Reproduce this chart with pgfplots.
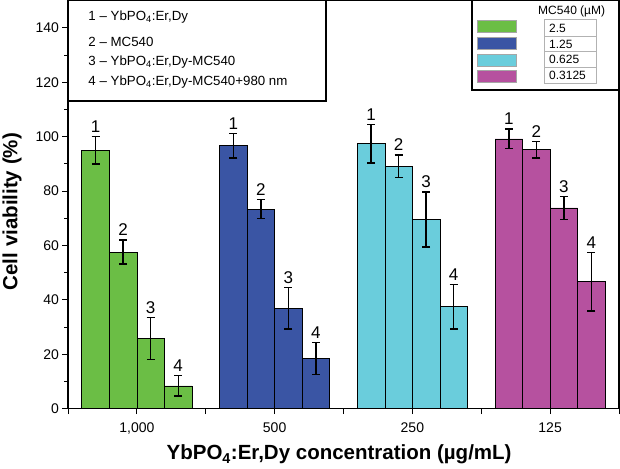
\documentclass[border=0pt]{standalone}
\usepackage{fontspec}
\setmainfont{Liberation Sans}
\usepackage{pgfplots}
\pgfplotsset{compat=1.18}
\definecolor{cgreen}{HTML}{6BBE45}
\definecolor{cblue}{HTML}{3A55A4}
\definecolor{ccyan}{HTML}{6ACDDC}
\definecolor{cmag}{HTML}{B6519F}
\newcommand{\tf}{\fontsize{14bp}{16bp}\selectfont}
\pgfplotsset{
  mybar/.style={ybar, bar width=0.2, bar shift=0pt, fill=#1, draw=black, line width=0.6bp,
    error bars/.cd, y dir=both, y explicit,
    error bar style={line width=1.4bp, black},
    error mark options={rotate=90, line width=1.4bp, black, mark size=4bp}},
}
\begin{document}
\begin{tikzpicture}[x=1bp,y=1bp]
\useasboundingbox (-68,-60.3) rectangle (552,408.7);
\begin{axis}[
  scale only axis, width=551bp, height=408bp,
  xmin=-0.5, xmax=3.5, ymin=0, ymax=150,
  axis line style={line width=1.1bp},
  tick align=outside, xtick pos=bottom, ytick pos=left,
  every tick/.style={black, line width=1bp},
  major tick length=5.5bp, minor tick length=3.5bp,
  xtick={-0.5,0,0.5,1,1.5,2,2.5,3,3.5},
  xticklabels={{},{1,000},{},500,{},250,{},125,{}},
  ytick={0,20,...,140}, minor y tick num=1,
  /pgf/number format/assume math mode=true,
  tick label style={font=\tf},
  xticklabel style={yshift=-5bp},
  xlabel={\bfseries YbPO\textsubscript{4}:Er,Dy concentration (µg/mL)},
  ylabel={\bfseries Cell viability (\%)},
  label style={font=\fontsize{20.5bp}{24bp}\selectfont},
  xlabel style={at={(axis description cs:0.492,-0.1257)}, anchor=base},
  ylabel style={at={(axis description cs:-0.1016,0.483)}, anchor=center},
]
\addplot[mybar=cgreen]
  coordinates {(-0.3,95.0) +- (0,5.0) (-0.1,57.6) +- (0,4.4) (0.1,25.8) +- (0,7.7) (0.3,8.4) +- (0,3.7)};
\addplot[mybar=cblue]
  coordinates {(0.7,96.7) +- (0,4.5) (0.9,73.4) +- (0,3.5) (1.1,36.9) +- (0,7.6) (1.3,18.5) +- (0,5.9)};
\addplot[mybar=ccyan]
  coordinates {(1.7,97.4) +- (0,7.1) (1.9,89.1) +- (0,4.2) (2.1,69.5) +- (0,10.1) (2.3,37.5) +- (0,8.2)};
\addplot[mybar=cmag]
  coordinates {(2.7,99.2) +- (0,3.6) (2.9,95.2) +- (0,3.1) (3.1,73.8) +- (0,4.2) (3.3,46.7) +- (0,10.8)};
\addplot[draw=none, mark=none, nodes near coords, point meta=explicit symbolic,
  nodes near coords style={font=\fontsize{17bp}{19bp}\selectfont, anchor=south, inner sep=0pt, yshift=4bp}]
  coordinates {
  (-0.3,100.0)[1] (-0.1,62.0)[2] (0.1,33.5)[3] (0.3,12.1)[4]
  (0.7,101.2)[1] (0.9,76.9)[2] (1.1,44.5)[3] (1.3,24.4)[4]
  (1.7,104.5)[1] (1.9,93.3)[2] (2.1,79.6)[3] (2.3,45.7)[4]
  (2.7,102.8)[1] (2.9,98.3)[2] (3.1,78.0)[3] (3.3,57.5)[4]};
\end{axis}
% left legend
\draw[line width=1.1bp, fill=white] (0,307.7) rectangle (258,408.2);
\begin{scope}[every node/.style={anchor=west, inner sep=0pt, font=\fontsize{13.3bp}{15bp}\selectfont}]
\node at (20.3,392) {1 – YbPO\textsubscript{4}:Er,Dy};
\node at (20.3,367) {2 – MC540};
\node at (20.3,347) {3 – YbPO\textsubscript{4}:Er,Dy-MC540};
\node at (20.3,326.7) {4 – YbPO\textsubscript{4}:Er,Dy-MC540+980 nm};
\end{scope}
% right legend
\draw[line width=1.1bp, fill=white] (404,318.7) rectangle (551,408.2);
\node[font=\fontsize{12bp}{14bp}\selectfont, inner sep=0pt] at (503.7,397) {MC540 (µM)};
\draw[draw=gray!70, fill=cgreen] (408.7,376.4) rectangle (448,388.0);
\draw[draw=gray!70, fill=cblue] (408.7,359.6) rectangle (448,371.2);
\draw[draw=gray!70, fill=ccyan] (408.7,342.9) rectangle (448,354.5);
\draw[draw=gray!70, fill=cmag] (408.7,326.9) rectangle (448,338.5);
\draw[gray!60, line width=0.6bp] (476,325.4) rectangle (528,389.4);
\draw[gray!60, line width=0.6bp] (476,372) -- (528,372) (476,357) -- (528,357) (476,341) -- (528,341);
\begin{scope}[every node/.style={anchor=west, inner sep=0pt, font=\fontsize{12bp}{14bp}\selectfont}]
\node at (481,380.7) {2.5};
\node at (481,364.5) {1.25};
\node at (481,349) {0.625};
\node at (481,333.2) {0.3125};
\end{scope}
\end{tikzpicture}
\end{document}
